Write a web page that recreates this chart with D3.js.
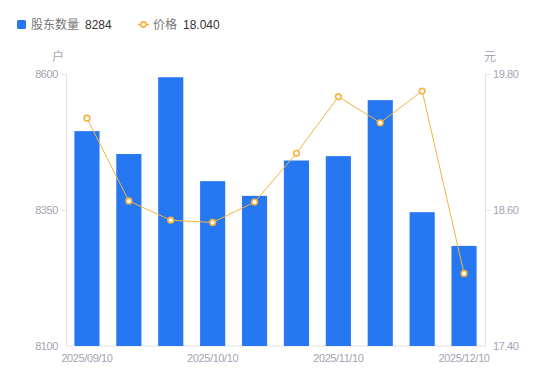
<!DOCTYPE html>
<html><head><meta charset="utf-8">
<script src="https://cdn.jsdelivr.net/npm/d3@7"></script>
<style>body{margin:0;background:#fff}svg{display:block;font-family:"Noto Sans CJK SC","Noto Sans",sans-serif}</style>
</head><body><svg id="c" width="550" height="381"></svg>
<script>
const categories = ["2025/09/10","2025/09/20","2025/09/30","2025/10/10","2025/10/20","2025/10/30","2025/11/10","2025/11/20","2025/11/30","2025/12/10"];
const holders = [8495, 8453, 8594, 8403, 8376, 8441, 8449, 8552, 8346, 8284];
const prices = [19.41, 18.68, 18.51, 18.49, 18.67, 19.10, 19.60, 19.37, 19.65, 18.04];
const leftTicks = [8100, 8350, 8600];
const rightTicks = [17.40, 18.60, 19.80];
const xLabels = ["2025/09/10","2025/10/10","2025/11/10","2025/12/10"];

const svg = d3.select("#c");
const L = 66, R = 485, T = 74, B = 346;
const blue = "#2678F2", orange = "#F7B13C", tickCol = "#a3a3b3", axisCol = "#e2e2e2";
const numFont = "'Liberation Sans', Arial, sans-serif";

const x = d3.scaleBand().domain(categories).range([L, R]).paddingInner(0.4).paddingOuter(0.2);
const yL = d3.scaleLinear().domain([8100, 8600]).range([B, T]);
const yR = d3.scaleLinear().domain([17.40, 19.80]).range([B, T]);

// axes
const gl = svg.append("g").attr("transform", `translate(${L},0)`)
  .call(d3.axisLeft(yL).tickValues(leftTicks).tickFormat(d3.format("d")).tickSize(5).tickSizeOuter(0).tickPadding(3));
const gr = svg.append("g").attr("transform", `translate(${R},0)`)
  .call(d3.axisRight(yR).tickValues(rightTicks).tickFormat(d3.format(".2f")).tickSize(5).tickSizeOuter(0).tickPadding(3));
[gl, gr].forEach(g => {
  g.select(".domain").attr("stroke", axisCol);
  g.selectAll(".tick line").attr("stroke", axisCol);
  g.selectAll(".tick text").attr("fill", tickCol).style("font-size", "11px").style("letter-spacing", "-0.4px").style("font-family", numFont);
});
gl.selectAll(".tick").filter(d => d === 8100).select("line").remove();
gr.selectAll(".tick").filter(d => d === 17.40).select("line").remove();

svg.append("line").attr("x1", L).attr("x2", R).attr("y1", B).attr("y2", B).attr("stroke", axisCol);

svg.append("g").selectAll("text").data(xLabels).join("text")
  .attr("x", d => x(d) + x.bandwidth() / 2).attr("y", B + 16)
  .attr("text-anchor", "middle").attr("fill", tickCol)
  .style("font-size", "11px").style("letter-spacing", "-0.4px").style("font-family", numFont).text(d => d);

// unit labels
svg.append("text").attr("x", 58).attr("y", 61).attr("text-anchor", "middle").attr("fill", tickCol).style("font-size", "12px").text("户");
svg.append("text").attr("x", 490).attr("y", 61).attr("text-anchor", "middle").attr("fill", tickCol).style("font-size", "12px").text("元");

// bars
svg.append("g").selectAll("rect").data(holders).join("rect")
  .attr("x", (d, i) => x(categories[i])).attr("width", x.bandwidth())
  .attr("y", d => yL(d)).attr("height", d => B - yL(d))
  .attr("fill", blue);

// line
const line = d3.line().x((d, i) => x(categories[i]) + x.bandwidth() / 2).y(d => yR(d));
svg.append("path").datum(prices).attr("d", line).attr("fill", "none").attr("stroke", orange).attr("stroke-width", 1);
svg.append("g").selectAll("circle").data(prices).join("circle")
  .attr("cx", (d, i) => x(categories[i]) + x.bandwidth() / 2).attr("cy", d => yR(d))
  .attr("r", 2.8).attr("fill", "#fff").attr("stroke", orange).attr("stroke-width", 1.6);

// legend
const lg = svg.append("g");
lg.append("rect").attr("x", 17).attr("y", 20).attr("width", 9).attr("height", 9).attr("rx", 1.5).attr("fill", blue);
lg.append("text").attr("x", 31).attr("y", 29).attr("fill", "#777").style("font-size", "12px").text("股东数量");
lg.append("text").attr("x", 85).attr("y", 29).attr("fill", "#333").style("font-size", "12px").style("font-family", numFont).text(holders[holders.length - 1]);
lg.append("line").attr("x1", 138).attr("x2", 149).attr("y1", 24.5).attr("y2", 24.5).attr("stroke", orange).attr("stroke-width", 1.5);
lg.append("circle").attr("cx", 143.5).attr("cy", 24.5).attr("r", 2.6).attr("fill", "#fff").attr("stroke", orange).attr("stroke-width", 1.6);
lg.append("text").attr("x", 153).attr("y", 29).attr("fill", "#777").style("font-size", "12px").text("价格");
lg.append("text").attr("x", 183).attr("y", 29).attr("fill", "#333").style("font-size", "12px").style("font-family", numFont).text(prices[prices.length - 1].toFixed(3));
</script></body></html>
